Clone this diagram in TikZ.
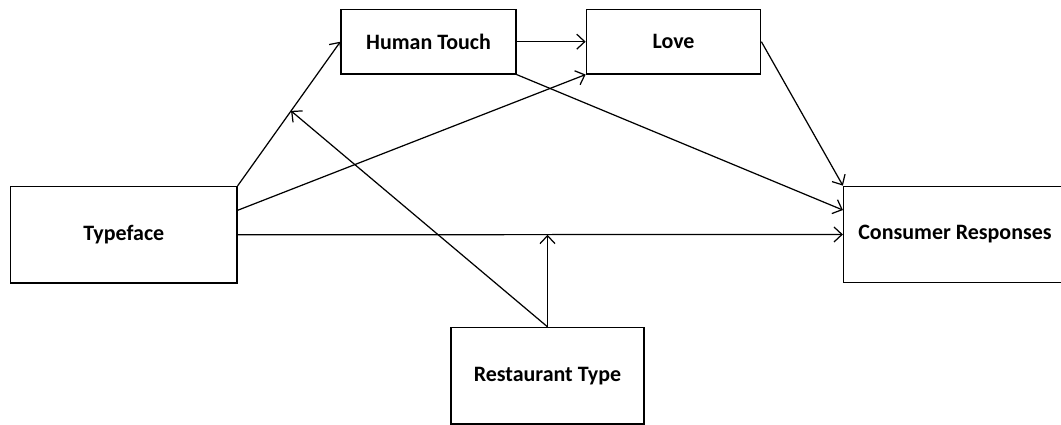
\documentclass[tikz,border=0pt]{standalone}
\usepackage{fontspec}
\setmainfont{Carlito}
\usetikzlibrary{arrows.meta,positioning,calc}

\begin{document}
\begin{tikzpicture}[font=\fontsize{12.5}{15}\selectfont\bfseries,
 box/.style={draw,line width=0.7pt,align=center,inner sep=0pt},
 arr/.style={-{Straight Barb[length=1.6mm,width=3mm]},line width=0.7pt}]
\useasboundingbox (0,0) rectangle (21.22,-8.5);
\node[box,minimum width=4.53cm,minimum height=1.93cm] (type) at (2.475,-4.695) {Typeface};
\node[box,minimum width=3.5cm,minimum height=1.29cm] (touch) at (8.57,-0.834) {Human Touch};
\node[box,minimum width=3.49cm,minimum height=1.29cm] (love) at (13.47,-0.834) {Love};
\node[box,minimum width=4.46cm,minimum height=1.93cm] (resp) at (19.1,-4.69) {Consumer Responses};
\node[box,minimum width=3.86cm,minimum height=1.93cm] (rest) at (10.95,-7.514) {Restaurant Type};
% direct paths
\draw[arr] (type.north east) -- (touch.west);
\draw[arr] ($(type.north east)!0.25!(type.south east)$) -- (love.south west);
\draw[arr] (type.east) -- (resp.west);
\draw[arr] (touch.east) -- (love.west);
\draw[arr] (touch.south east) -- ($(resp.north west)!0.25!(resp.south west)$);
\draw[arr] (love.east) -- (resp.north west);
% moderation
\coordinate (modA) at ($(type.north east)!0.52!(touch.west)$);
\coordinate (modB) at (rest.north |- type.east);
\draw[arr] (rest.north) -- (modA);
\draw[arr] (rest.north) -- (modB);
\end{tikzpicture}
\end{document}
